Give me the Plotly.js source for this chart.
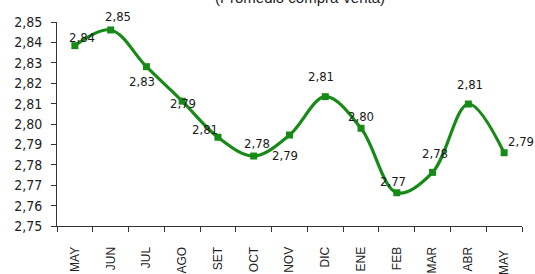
<!DOCTYPE html>
<html>
<head>
<meta charset="utf-8">
<script src="https://cdn.plot.ly/plotly-3.0.1.min.js"></script>
<style>html,body{margin:0;padding:0;background:#fff;}#chart{width:535px;height:274px;}</style>
</head>
<body>
<div id="chart"></div>
<script>
var categories = ["MAY", "JUN", "JUL", "AGO", "SET", "OCT", "NOV", "DIC", "ENE", "FEB", "MAR", "ABR", "MAY "];
var values = [2.8384, 2.8461, 2.8281, 2.8112, 2.7935, 2.7843, 2.7946, 2.8134, 2.7979, 2.7663, 2.7763, 2.8098, 2.7859];
var pointLabels = ["2,84", "2,85", "2,83", "2,79", "2,81", "2,78", "2,79", "2,81", "2,80", "2,77", "2,78", "2,81", "2,79"];
var yTickValues = [2.75, 2.76, 2.77, 2.78, 2.79, 2.80, 2.81, 2.82, 2.83, 2.84, 2.85];
var yTickLabels = ["2,75", "2,76", "2,77", "2,78", "2,79", "2,80", "2,81", "2,82", "2,83", "2,84", "2,85"];
var titleText = "(Promedio compra-venta)";

// label offsets (pixels) relative to each point
var labelDx = [7, 7, -4, 1, -13, 3, -5, -4, 0, -4, 2, 2, 17];
var labelDy = [8, 13, -15, -2, 8, 13, -20, 20, 12, 11, 19, 20, 11];

var green = "#178a17";
var narrow = "'DejaVu Sans Condensed', 'Liberation Sans Narrow', sans-serif";

var annotations = categories.map(function (c, i) {
  return {
    x: c, y: values[i], xref: "x", yref: "y",
    text: pointLabels[i], showarrow: false,
    xshift: labelDx[i], yshift: labelDy[i],
    font: {family: narrow, size: 13, color: "#1a1a1a"}
  };
});
annotations.push({
  x: 0.5226, y: 1.12, xref: "paper", yref: "paper",
  xanchor: "center", yanchor: "middle",
  text: titleText, showarrow: false,
  font: {family: "'Liberation Sans', Arial, sans-serif", size: 15, color: "#222"}
});

var trace = {
  x: categories, y: values, type: "scatter", mode: "lines+markers",
  line: {color: green, width: 3.2, shape: "spline", smoothing: 1},
  marker: {symbol: "square", size: 7, color: green},
  hoverinfo: "skip"
};

var layout = {
  width: 535, height: 274,
  margin: {l: 57, r: 13, t: 22, b: 48},
  paper_bgcolor: "#fff", plot_bgcolor: "#fff",
  showlegend: false,
  xaxis: {
    type: "category", tickmode: "array", tickvals: categories, ticktext: categories,
    tickson: "boundaries", ticks: "outside", ticklen: 5, tickcolor: "#333",
    showline: true, linecolor: "#333", linewidth: 1,
    showgrid: false, zeroline: false, tickangle: -90,
    ticklabelstandoff: 15,
    tickfont: {family: "'Liberation Sans', Arial, sans-serif", size: 12, color: "#222"},
    range: [-0.5, 12.5]
  },
  yaxis: {
    range: [2.75, 2.85], tickmode: "array", tickvals: yTickValues, ticktext: yTickLabels,
    ticks: "outside", ticklen: 5, tickcolor: "#333",
    showline: true, linecolor: "#333", linewidth: 1,
    showgrid: false, zeroline: false,
    ticklabelstandoff: 6,
    tickfont: {family: narrow, size: 14, color: "#222"}
  },
  annotations: annotations
};

Plotly.newPlot("chart", [trace], layout, {staticPlot: true, displayModeBar: false});
</script>
</body>
</html>
